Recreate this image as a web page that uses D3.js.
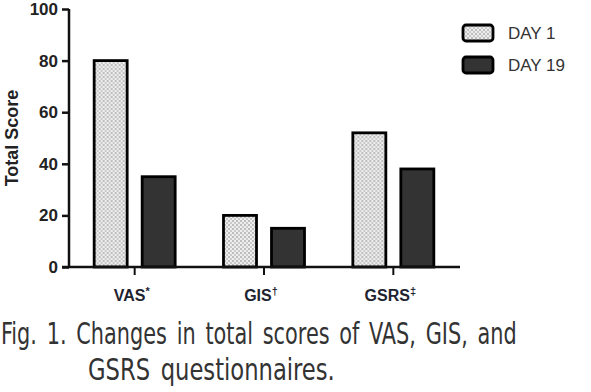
<!DOCTYPE html>
<html>
<head>
<meta charset="utf-8">
<script src="https://cdn.jsdelivr.net/npm/d3@7"></script>
<style>
  html, body { margin: 0; padding: 0; background: #fff; }
  svg { display: block; }
</style>
</head>
<body>
<div id="chart"></div>
<script>
// data
const categories = ["VAS", "GIS", "GSRS"];
const catMarks = ["*", "†", "‡"];
const seriesNames = ["DAY 1", "DAY 19"];
const day1 = [80, 20, 52];
const day19 = [35, 15, 38];
const yTicks = [0, 20, 40, 60, 80, 100];
const captionLines = ["Fig. 1. Changes in total scores of VAS, GIS, and", "GSRS questionnaires."];

const W = 591, H = 392;
const svg = d3.select("#chart").append("svg")
  .attr("width", W).attr("height", H);

svg.append("rect").attr("width", W).attr("height", H).attr("fill", "#fff");

// dotted fill for day 1
const defs = svg.append("defs");
const pat = defs.append("pattern")
  .attr("id", "dots")
  .attr("patternUnits", "userSpaceOnUse")
  .attr("width", 4).attr("height", 4);
pat.append("rect").attr("width", 4).attr("height", 4).attr("fill", "#eeeeee");
pat.append("circle").attr("cx", 1).attr("cy", 1).attr("r", 0.7).attr("fill", "#666");
pat.append("circle").attr("cx", 3).attr("cy", 3).attr("r", 0.7).attr("fill", "#888");

const fills = ["url(#dots)", "#333"];

const x0 = d3.scaleBand().domain(categories).range([70, 458]);
const x1 = d3.scaleBand().domain(seriesNames).range([-40.5, 40.5]).paddingInner(0.3125);
const y = d3.scaleLinear().domain([0, 100]).range([267, 9]);

const rows = categories.map((c, i) => ({ cat: c, vals: [day1[i], day19[i]] }));

// bars
const groups = svg.append("g").selectAll("g")
  .data(rows)
  .join("g")
  .attr("transform", d => `translate(${x0(d.cat) + x0.bandwidth() / 2},0)`);

groups.selectAll("rect")
  .data(d => d.vals.map((v, k) => ({ s: seriesNames[k], v, k })))
  .join("rect")
  .attr("x", d => x1(d.s))
  .attr("y", d => y(d.v))
  .attr("width", x1.bandwidth())
  .attr("height", d => y(0) - y(d.v))
  .attr("fill", d => fills[d.k])
  .attr("stroke", "#000")
  .attr("stroke-width", 2.8);

// y axis
const yAxis = svg.append("g")
  .attr("transform", "translate(69,0)")
  .call(d3.axisLeft(y).tickValues(yTicks).tickSize(7).tickPadding(4));
yAxis.select(".domain").attr("stroke", "#111").attr("stroke-width", 2.5)
  .attr("d", `M0,${y(100)}V${y(0)}`);
yAxis.selectAll(".tick line").attr("stroke", "#111").attr("stroke-width", 2.5);
yAxis.selectAll(".tick text")
  .attr("fill", "#222")
  .style("font-family", "Arial, 'Liberation Sans', sans-serif")
  .style("font-size", "17px")
  .style("font-weight", "bold");

// x axis
const xAxis = svg.append("g")
  .attr("transform", `translate(0,${y(0)})`)
  .call(d3.axisBottom(x0).tickSize(8).tickFormat(""));
xAxis.select(".domain").attr("stroke", "#111").attr("stroke-width", 2.5)
  .attr("d", "M62,0H460");
xAxis.selectAll(".tick line").attr("stroke", "#111").attr("stroke-width", 2);

const xl = svg.append("g").selectAll("text")
  .data(categories)
  .join("text")
  .attr("x", d => x0(d) + x0.bandwidth() / 2 - 3)
  .attr("y", 301)
  .attr("text-anchor", "middle")
  .attr("fill", "#1e2330")
  .style("font-family", "Arial, 'Liberation Sans', sans-serif")
  .style("font-size", "16px")
  .style("font-weight", "bold");
xl.append("tspan").text(d => d);
xl.append("tspan")
  .attr("dy", -6)
  .style("font-size", "11px")
  .text((d, i) => catMarks[i]);

// y label
svg.append("text")
  .attr("transform", "translate(18,138) rotate(-90)")
  .attr("text-anchor", "middle")
  .attr("fill", "#222")
  .style("font-family", "Arial, 'Liberation Sans', sans-serif")
  .style("font-size", "18px")
  .style("font-weight", "bold")
  .text("Total Score");

// legend
const leg = svg.append("g").selectAll("g")
  .data(seriesNames)
  .join("g")
  .attr("transform", (d, i) => `translate(463,${25 + i * 32})`);
leg.append("rect")
  .attr("width", 30).attr("height", 16)
  .attr("rx", 3)
  .attr("fill", (d, i) => fills[i])
  .attr("stroke", "#000")
  .attr("stroke-width", 2.8);
leg.append("text")
  .attr("x", 45).attr("y", 14)
  .attr("fill", "#333")
  .style("font-family", "Arial, 'Liberation Sans', sans-serif")
  .style("font-size", "17px")
  .text(d => d);

// caption: tall narrow glyphs -> squeeze horizontally to the measured width
const capSpec = [
  { x: 1, y: 344, w: 516 },
  { x: 88, y: 380, w: 247 }
];
captionLines.forEach((line, i) => {
  const s = capSpec[i];
  const g = svg.append("g");
  const t = g.append("text")
    .attr("fill", "#333")
    .style("font-family", "'Liberation Sans Narrow', 'DejaVu Sans Condensed', sans-serif")
    .style("font-size", "30px")
    .style("word-spacing", "4px")
    .text(line);
  const len = t.node().getComputedTextLength();
  g.attr("transform", `translate(${s.x},${s.y}) scale(${s.w / len},1)`);
});
</script>
</body>
</html>
